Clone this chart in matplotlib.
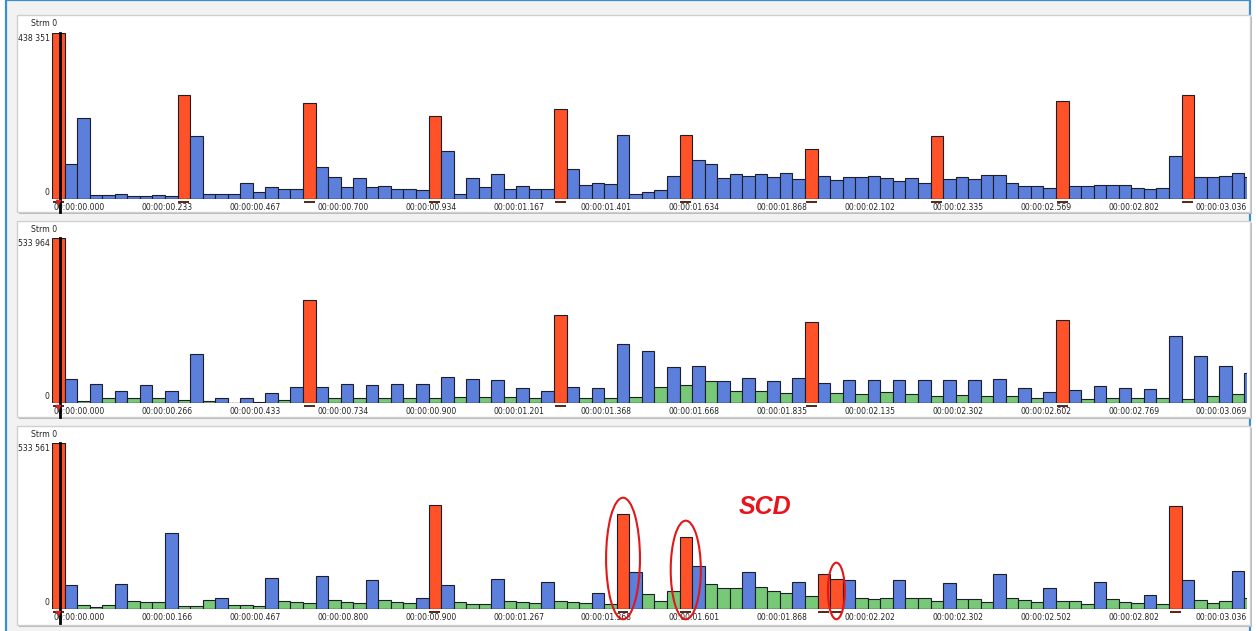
import numpy as np
import matplotlib
matplotlib.use("Agg")
import matplotlib.pyplot as plt
from matplotlib.patches import Rectangle, Ellipse

# frame types per bar: I = red, P = blue, B = green
types1 = ("IPPPPPPPPP" "IPPPPPPPPP" "IPPPPPPPPP" "IPPPPPPPPP" "IPPPPPPPPP"
          "IPPPPPPPPP" "IPPPPPPPPP" "IPPPPPPPPP" "IPPPPPPPPP" "IPPPPP")
types2 = ("IPBPBPBPBP" "BPBPBPBPBP" "IPBPBPBPBP" "BPBPBPBPBP" "IPBPBPBPBP"
          "BPBPBPBPBP" "IPBPBPBPBP" "BPBPBPBPBP" "IPBPBPBPBP" "BPBPBP")
types3 = ("IPBBBPBBBP" "BBBPBBBPBB" "BPBBBPBBBP" "IPBBBPBBBP" "BBBPBIPBBB"
          "IPBBBPBBBP" "BIIPBBBPBB" "BPBBBPBBBP" "BBBPBBBPBI" "PBBBPB")

# bar heights as fraction of the panel maximum
vals1 = [1.0, .208, .485, .022, .022, .028, .016, .016, .022, .016,
         .625, .381, .03, .03, .03, .098, .04, .074, .062, .062,
         .577, .19, .134, .074, .128, .07, .078, .062, .062, .054,
         .503, .287, .028, .124, .074, .148, .058, .076, .062, .062,
         .545, .18, .082, .094, .088, .385, .032, .04, .054, .136,
         .385, .232, .21, .124, .148, .136, .148, .13, .154, .12,
         .299, .136, .116, .134, .134, .14, .124, .106, .124, .098,
         .381, .12, .13, .12, .144, .144, .098, .076, .076, .068,
         .589, .076, .076, .082, .082, .082, .068, .062, .068, .257,
         .625, .13, .13, .136, .154, .13]
vals2 = [1.0, .145, .014, .119, .03, .077, .03, .109, .034, .077,
         .018, .297, .014, .034, .004, .03, .01, .061, .018, .099,
         .626, .099, .03, .119, .03, .109, .03, .115, .03, .115,
         .03, .158, .036, .147, .036, .143, .036, .095, .032, .073,
         .533, .099, .032, .095, .032, .362, .036, .315, .099, .218,
         .113, .224, .133, .133, .075, .152, .075, .133, .061, .152,
         .495, .121, .061, .143, .057, .143, .067, .143, .057, .139,
         .046, .143, .053, .143, .042, .147, .042, .095, .032, .067,
         .503, .081, .028, .103, .032, .095, .032, .089, .032, .408,
         .028, .285, .046, .228, .057, .186]
vals3 = [1.0, .147, .028, .012, .028, .151, .05, .042, .042, .458,
         .018, .018, .054, .066, .028, .024, .018, .187, .05, .046,
         .036, .199, .054, .046, .036, .175, .054, .046, .036, .07,
         .629, .147, .042, .03, .03, .183, .05, .046, .036, .167,
         .05, .046, .036, .098, .03, .572, .225, .094, .05, .112,
         .434, .259, .151, .127, .127, .225, .137, .112, .098, .167,
         .078, .213, .181, .175, .07, .06, .066, .179, .066, .07,
         .05, .161, .06, .06, .042, .211, .066, .054, .042, .127,
         .05, .05, .03, .163, .06, .042, .036, .084, .03, .625,
         .179, .054, .036, .05, .229, .07]

maxima = [438351, 533964, 533561]

ticks1 = ["00:00:00.000", "00:00:00.233", "00:00:00.467", "00:00:00.700", "00:00:00.934",
          "00:00:01.167", "00:00:01.401", "00:00:01.634", "00:00:01.868", "00:00:02.102",
          "00:00:02.335", "00:00:02.569", "00:00:02.802", "00:00:03.036"]
ticks2 = ["00:00:00.000", "00:00:00.266", "00:00:00.433", "00:00:00.734", "00:00:00.900",
          "00:00:01.201", "00:00:01.368", "00:00:01.668", "00:00:01.835", "00:00:02.135",
          "00:00:02.302", "00:00:02.602", "00:00:02.769", "00:00:03.069"]
ticks3 = ["00:00:00.000", "00:00:00.166", "00:00:00.467", "00:00:00.800", "00:00:00.900",
          "00:00:01.267", "00:00:01.368", "00:00:01.601", "00:00:01.868", "00:00:02.202",
          "00:00:02.302", "00:00:02.502", "00:00:02.802", "00:00:03.036"]

# circled bars in the last panel
circled = [45, 50, 62]
circle_w = [2.7, 2.4, 1.35]

colors = {"I": "#ff5229", "P": "#5b7fdb", "B": "#77c877"}

W, H = 1256, 631
fig = plt.figure(figsize=(W / 100, H / 100), dpi=100)
fig.patch.set_facecolor("white")


def fx(px):
    return px / W


def fy(py):
    return 1 - py / H


# outer blue frame
fig.add_artist(Rectangle((fx(6), fy(640)), fx(1244), 640 / H, transform=fig.transFigure,
                         facecolor="#f2f2f2", edgecolor="#3a8fd0", lw=1.6, zorder=-3))

boxes = [(15, 212), (221, 417), (426, 625)]
axes_y = [(33, 199), (238.3, 403.3), (443.3, 609.3)]

panels = [(types1, vals1, ticks1), (types2, vals2, ticks2), (types3, vals3, ticks3)]

for k, (types, vals, ticks) in enumerate(panels):
    top, bot = boxes[k]
    # panel box with a soft shadow
    fig.add_artist(Rectangle((fx(19), fy(bot + 2)), fx(1233), (bot - top) / H,
                             transform=fig.transFigure, facecolor="#b8b8b8",
                             edgecolor="none", zorder=-2))
    fig.add_artist(Rectangle((fx(17), fy(bot)), fx(1233), (bot - top) / H,
                             transform=fig.transFigure, facecolor="white",
                             edgecolor="#d0d0d0", lw=1, zorder=-1))

    yt, yb = axes_y[k]
    ax = fig.add_axes([fx(52), fy(yb), fx(1195), (yb - yt) / H])
    ax.patch.set_visible(False)
    m = maxima[k]
    x = np.arange(len(vals))
    h = np.array(vals) * m
    cols = [colors[t] for t in types]
    ax.bar(x, h, width=1.0, color=cols, edgecolor="#1e1e2a", linewidth=0.8, zorder=2)
    ax.axhline(0, color="#222222", lw=0.9, zorder=3)

    # dark marks below the red frames
    red_idx = [i for i, t in enumerate(types) if t == "I"]
    ax.bar(red_idx, [-0.013 * m] * len(red_idx), bottom=-0.011 * m, width=0.85,
           color="#5a2a1e", edgecolor="none", clip_on=False, zorder=3)

    # cursor line
    ax.plot([0.13, 0.13], [m, -0.08 * m], color="black", lw=2.0, clip_on=False, zorder=5)
    ax.plot([0.0], [-0.02 * m], marker="v", color="#e02020", ms=3, clip_on=False, zorder=6)

    ax.set_xlim(-0.5, -0.5 + 1195 / 12.55)
    ax.set_ylim(0, m)
    for s in ax.spines.values():
        s.set_visible(False)
    ax.set_yticks([])
    ax.set_xticks(np.arange(len(ticks)) * 7 - 0.35)
    ax.set_xticklabels(ticks, ha="left", fontsize=5.5, color="#222222")
    ax.tick_params(axis="x", length=0, pad=2.8)

    ax.text(-2 / 1195, 0.995, f"{m:,}".replace(",", " "), transform=ax.transAxes,
            ha="right", va="top", fontsize=5.6, color="#222222")
    ax.text(-3 / 1195, 0.015, "0", transform=ax.transAxes,
            ha="right", va="bottom", fontsize=5.6, color="#222222")
    ax.text(-8 / 1195, 1 + 9 / (yb - yt), "Strm 0", transform=ax.transAxes,
            ha="center", va="center", fontsize=5.6, color="#222222")

    if k == 2:
        for i, w in zip(circled, circle_w):
            lo = -0.06 * m
            hi = h[i] + 0.1 * m
            ax.add_patch(Ellipse((i, (lo + hi) / 2), w, hi - lo, facecolor="none",
                                 edgecolor="#e01818", lw=1.5, clip_on=False, zorder=7))
        ax.text(56.3, 0.616 * m, "SCD", color="#e8141c", fontsize=18,
                fontweight="bold", fontstyle="italic", family="Liberation Sans",
                ha="center", va="center", zorder=7)

fig.savefig("out.png", dpi=100)
